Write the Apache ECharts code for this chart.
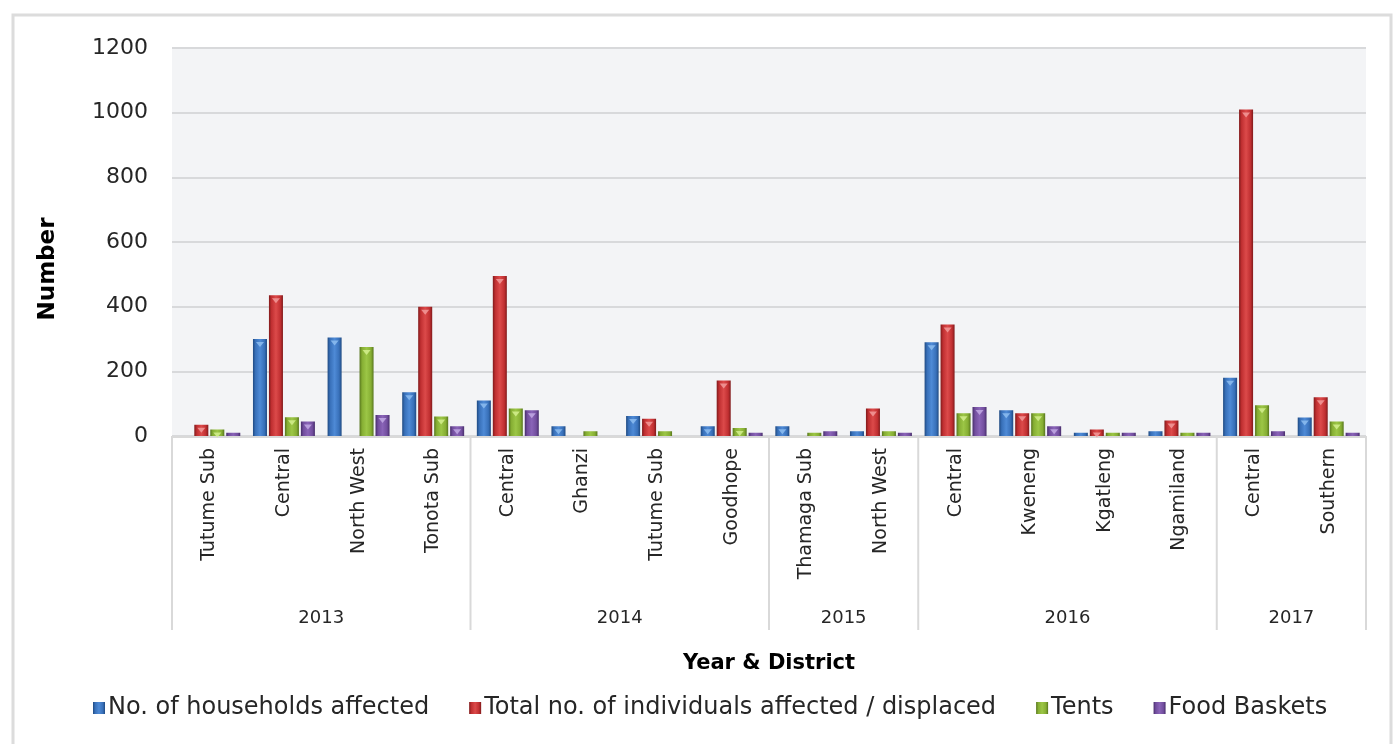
<!DOCTYPE html>
<html>
<head>
<meta charset="utf-8">
<script src="https://cdn.jsdelivr.net/npm/echarts@6/dist/echarts.min.js"></script>
<style>
  html, body { margin: 0; padding: 0; background: #ffffff; }
  #chart { width: 1394px; height: 744px; }
</style>
</head>
<body>
<div id="chart"></div>
<script>
// Years and the districts reported in each year
const years = ['2013', '2014', '2015', '2016', '2017'];
const districtsByYear = [
  ['Tutume Sub', 'Central', 'North West', 'Tonota Sub'],
  ['Central', 'Ghanzi', 'Tutume Sub', 'Goodhope'],
  ['Thamaga Sub', 'North West'],
  ['Central', 'Kweneng', 'Kgatleng', 'Ngamiland'],
  ['Central', 'Southern']
];

// Series values, one per district in the order above
const households  = [0, 300, 305, 135, 110, 30, 62, 30, 30, 15, 290, 80, 10, 15, 180, 57];
const individuals = [35, 435, 0, 400, 495, 0, 53, 172, 0, 85, 345, 70, 20, 48, 1010, 120];
const tents       = [20, 58, 275, 60, 85, 15, 15, 25, 10, 15, 70, 70, 10, 10, 95, 45];
const foodBaskets = [10, 45, 65, 30, 80, 0, 0, 10, 15, 10, 90, 30, 10, 10, 15, 10];

const seriesNames = [
  'No. of households affected',
  'Total no. of individuals affected / displaced',
  'Tents',
  'Food Baskets'
];
const yTicks = [0, 200, 400, 600, 800, 1000, 1200];

// category keys carry the year so repeated district names stay distinct
const categories = [];
districtsByYear.forEach((list, yi) => list.forEach(d => categories.push(years[yi] + '|' + d)));

const FONT = 'DejaVu Sans';
const TEXT = '#262626';

// bevelled bar look: dark edges, bright centre
const palettes = [
  { edge: '#1f4a82', mid: '#3870b9', light: '#4e8ad6', tip: '#8dbdf0' },
  { edge: '#801a1b', mid: '#c02f31', light: '#dc4a4a', tip: '#f29a9a' },
  { edge: '#57761d', mid: '#86ae33', light: '#9cc646', tip: '#d3ee8e' },
  { edge: '#472d6b', mid: '#724e9e', light: '#8a64b8', tip: '#c2a9e4' }
];
function bevel(p) {
  return new echarts.graphic.LinearGradient(0, 0, 1, 0, [
    { offset: 0, color: p.edge },
    { offset: 0.18, color: p.mid },
    { offset: 0.5, color: p.light },
    { offset: 0.82, color: p.mid },
    { offset: 1, color: p.edge }
  ]);
}

const values = [households, individuals, tents, foodBaskets];
const BAR_GAP = '14%';
const CAT_GAP = '17%';

const barSeries = values.map((vals, i) => ({
  name: seriesNames[i],
  type: 'bar',
  data: vals,
  barGap: BAR_GAP,
  barCategoryGap: CAT_GAP,
  itemStyle: { color: bevel(palettes[i]), borderWidth: 0 },
  emphasis: { disabled: true }
}));

// small down-pointing caps at the top of bars tall enough to hold one
const capSeries = values.map((vals, i) => ({
  name: seriesNames[i],
  type: 'pictorialBar',
  data: vals.map(v => (v >= 20 ? v : '-')),
  barGap: BAR_GAP,
  barCategoryGap: CAT_GAP,
  symbol: 'triangle',
  symbolRotate: 180,
  symbolSize: [8, 5],
  symbolPosition: 'end',
  symbolOffset: [0, 3],
  itemStyle: { color: palettes[i].tip, opacity: 0.85 },
  silent: true,
  z: 3
}));

const chart = echarts.init(document.getElementById('chart'), null, { renderer: 'canvas' });

chart.setOption({
  animation: false,
  backgroundColor: '#ffffff',
  textStyle: { fontFamily: FONT },
  grid: {
    left: 172, right: 28, top: 48, bottom: 308,
    show: true, backgroundColor: '#f3f4f6', borderWidth: 0
  },
  legend: {
    data: seriesNames,
    left: 88, top: 691,
    itemWidth: 12, itemHeight: 12, itemGap: 40,
    icon: 'rect',
    textStyle: { fontFamily: FONT, fontSize: 24, color: TEXT, padding: [0, 0, 0, -2] }
  },
  xAxis: {
    type: 'category',
    data: categories,
    name: 'Year & District',
    nameLocation: 'middle',
    nameGap: 217,
    nameTextStyle: { fontFamily: FONT, fontSize: 21, fontWeight: 'bold', color: '#000' },
    axisLine: { show: false },
    axisTick: { show: false },
    axisLabel: {
      rotate: 90,
      interval: 0,
      margin: 12,
      fontFamily: FONT,
      fontSize: 19,
      color: TEXT,
      formatter: v => v.split('|')[1]
    }
  },
  yAxis: {
    type: 'value',
    min: yTicks[0],
    max: yTicks[yTicks.length - 1],
    interval: yTicks[1] - yTicks[0],
    name: 'Number',
    nameLocation: 'middle',
    nameGap: 112,
    nameTextStyle: { fontFamily: FONT, fontSize: 23, fontWeight: 'bold', color: '#000', padding: [0, 54, 0, 0] },
    axisLine: { show: false },
    axisTick: { show: false },
    axisLabel: { margin: 24, fontFamily: FONT, fontSize: 22, color: TEXT, formatter: v => String(v) },
    splitLine: { lineStyle: { color: '#d8d9db', width: 2 } }
  },
  series: barSeries.concat(capSeries)
});

// Year row: group separators and centred year labels, placed via the category scale
function drawYearRow() {
  const x0 = chart.convertToPixel({ xAxisIndex: 0 }, 0);
  const x1 = chart.convertToPixel({ xAxisIndex: 0 }, 1);
  const w = x1 - x0;
  const yAxisBase = chart.convertToPixel({ yAxisIndex: 0 }, 0);
  const sepBottom = yAxisBase + 194;
  const elements = [];
  const sepColor = '#d9d9d9';

  // frame around the whole figure
  elements.push({
    type: 'rect',
    shape: { x: 13, y: 15, width: 1378, height: 760 },
    style: { fill: null, stroke: '#dcdcdc', lineWidth: 3 },
    silent: true
  });

  let start = 0;
  const bounds = [];
  districtsByYear.forEach((list, yi) => {
    const left = chart.convertToPixel({ xAxisIndex: 0 }, start) - w / 2;
    const right = chart.convertToPixel({ xAxisIndex: 0 }, start + list.length - 1) + w / 2;
    bounds.push(left);
    if (yi === districtsByYear.length - 1) bounds.push(right);
    elements.push({
      type: 'text',
      style: {
        text: years[yi],
        x: (left + right) / 2,
        y: yAxisBase + 182,
        align: 'center',
        verticalAlign: 'middle',
        font: '18px "' + FONT + '"',
        fill: TEXT
      },
      silent: true
    });
    start += list.length;
  });

  // baseline under the bars
  elements.push({
    type: 'line',
    shape: { x1: bounds[0], y1: yAxisBase + 1, x2: bounds[bounds.length - 1], y2: yAxisBase + 1 },
    style: { stroke: sepColor, lineWidth: 2 },
    silent: true
  });
  bounds.forEach(b => {
    elements.push({
      type: 'line',
      shape: { x1: b, y1: yAxisBase, x2: b, y2: sepBottom },
      style: { stroke: sepColor, lineWidth: 2 },
      silent: true
    });
  });

  chart.setOption({ graphic: { elements } });
}
drawYearRow();
</script>
</body>
</html>
